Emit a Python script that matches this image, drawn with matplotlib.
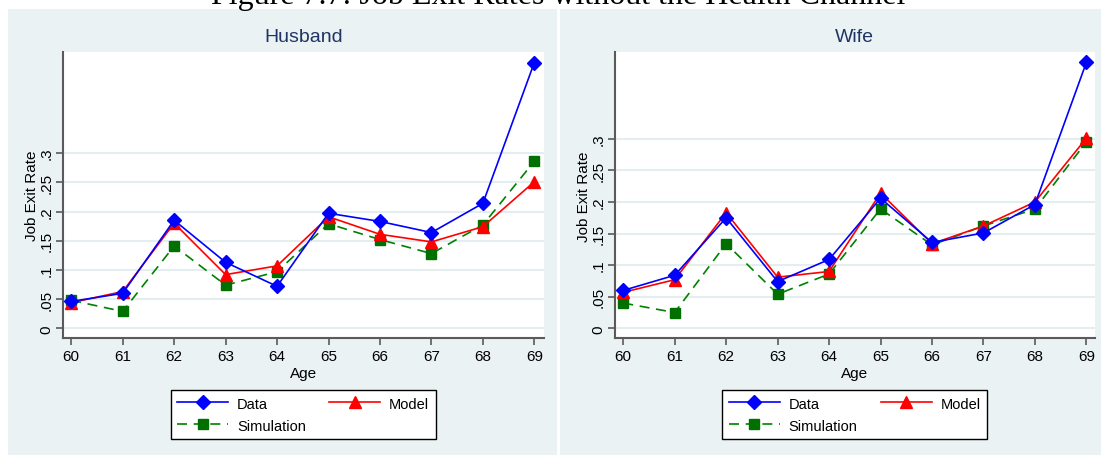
import matplotlib
matplotlib.use('Agg')
import matplotlib.pyplot as plt
from matplotlib.patches import Rectangle

ages = [60, 61, 62, 63, 64, 65, 66, 67, 68, 69]

husband_data = [0.046, 0.060, 0.185, 0.113, 0.072, 0.197, 0.183, 0.164, 0.214, 0.455]
husband_model = [0.044, 0.063, 0.180, 0.092, 0.107, 0.191, 0.161, 0.148, 0.174, 0.251]
husband_sim = [0.048, 0.029, 0.141, 0.074, 0.097, 0.179, 0.152, 0.128, 0.177, 0.286]

wife_data = [0.060, 0.084, 0.175, 0.074, 0.109, 0.206, 0.136, 0.151, 0.196, 0.421]
wife_model = [0.057, 0.077, 0.183, 0.081, 0.090, 0.214, 0.134, 0.162, 0.200, 0.301]
wife_sim = [0.040, 0.025, 0.134, 0.054, 0.086, 0.189, 0.132, 0.162, 0.189, 0.295]

yticks = [0, 0.05, 0.1, 0.15, 0.2, 0.25, 0.3]
ytick_labels = ['0', '.05', '.1', '.15', '.2', '.25', '.3']

W, H = 1101, 456
narrow = ['Liberation Sans Narrow', 'Liberation Sans', 'DejaVu Sans']
navy = '#1f3464'
bg = '#eaf2f3'

def box(x0, y0, x1, y1):
    return [x0 / W, 1 - y1 / H, (x1 - x0) / W, (y1 - y0) / H]

fig = plt.figure(figsize=(W / 100, H / 100), dpi=100)
fig.patch.set_facecolor('white')

# panel backgrounds, drawn as a background axes so they sit under the plots
bgax = fig.add_axes([0, 0, 1, 1], zorder=-10)
bgax.set_axis_off()
bgax.set_xlim(0, W)
bgax.set_ylim(H, 0)
for x0, x1 in [(8, 557), (560, 1101)]:
    bgax.add_patch(Rectangle((x0, 10), x1 - x0, H - 10, facecolor=bg, edgecolor='none'))

# page caption, cut at the top edge like the scan
fig.text(558 / W, 1 - 4 / H, 'Figure 7.7: Job Exit Rates without the Health Channel',
         family=['Liberation Serif', 'DejaVu Serif'], fontsize=23,
         ha='center', va='baseline')

panels = [
    ('Husband', husband_data, husband_model, husband_sim, (63, 53, 543.6, 339.3), (59.84, 69.18), (-0.017, 0.473)),
    ('Wife', wife_data, wife_model, wife_sim, (615, 53.3, 1094.6, 339.3), (59.84, 69.16), (-0.0158, 0.437)),
]

for title, d, m, s, rect, xl, yl in panels:
    ax = fig.add_axes(box(*rect))
    ax.set_facecolor('white')
    for v in yticks:
        ax.axhline(v, color='#e4eef0', lw=1.5, zorder=1)
    ax.plot(ages, d, color='#0000ff', lw=1.2, marker='D', ms=7, zorder=4, label='Data')
    ax.plot(ages, m, color='#ff0000', lw=1.2, marker='^', ms=8, zorder=3, label='Model')
    ax.plot(ages, s, color='#008000', lw=1.2, ls=(0, (6, 4)), marker='s', ms=7,
            markerfacecolor='#007000', markeredgecolor='#007000', zorder=2, label='Simulation')
    ax.set_xlim(*xl)
    ax.set_ylim(*yl)
    ax.set_xticks(ages)
    ax.set_xticklabels([str(a) for a in ages], family=narrow, fontsize=11)
    ax.set_yticks(yticks)
    ax.set_yticklabels(ytick_labels, family=narrow, fontsize=11, rotation=90, va='center')
    for sp in ['top', 'right']:
        ax.spines[sp].set_visible(False)
    for sp in ['left', 'bottom']:
        ax.spines[sp].set_color('#5a5a5a')
        ax.spines[sp].set_linewidth(1.5)
    ax.tick_params(direction='out', length=5, width=1.2, color='#5a5a5a', pad=3)
    ax.tick_params(axis='y', pad=2)
    ax.set_xlabel('Age', family=narrow, fontsize=11, labelpad=2)
    ax.set_ylabel('Job Exit Rate', family=narrow, fontsize=11, labelpad=0)
    cx = (rect[0] + rect[2]) / 2
    fig.text(cx / W, 1 - 37 / H, title, family=narrow, fontsize=14, color=navy,
             ha='center', va='center')
    h, lab = ax.get_legend_handles_labels()
    order = [0, 2, 1]
    leg = ax.legend([h[i] for i in order], [lab[i] for i in order], ncol=2,
                    loc='upper center', bbox_to_anchor=(cx / W, 1 - 391 / H),
                    bbox_transform=fig.transFigure, frameon=True, fancybox=False,
                    edgecolor='black', framealpha=1, handlelength=3.5,
                    handletextpad=0.6, columnspacing=1.6, borderaxespad=0,
                    prop={'family': narrow, 'size': 10.5},
                    borderpad=0.45, labelspacing=0.55)
    leg.get_frame().set_linewidth(1.0)

fig.savefig('out.png', dpi=100, facecolor=fig.get_facecolor())
